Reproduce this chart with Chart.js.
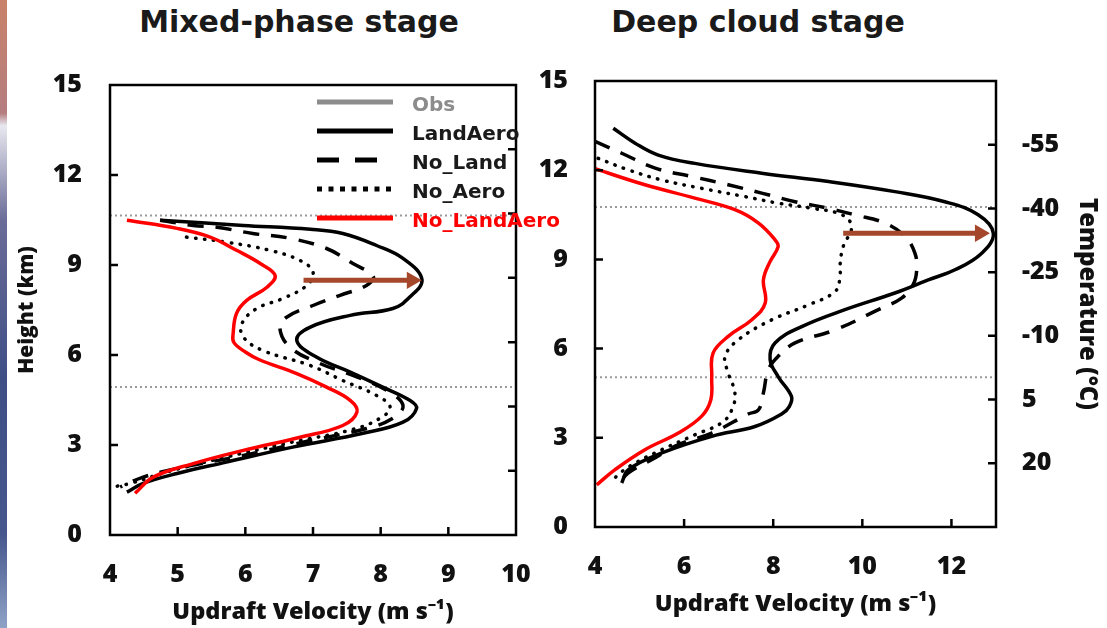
<!DOCTYPE html>
<html>
<head>
<meta charset="utf-8">
<script src="https://cdn.jsdelivr.net/npm/chart.js@4.4.0/dist/chart.umd.min.js"></script>
<style>
  html, body { margin: 0; padding: 0; background: #fff; }
  body { width: 1107px; height: 628px; position: relative; overflow: hidden; }
  #strip { position: absolute; left: 0; top: 0; width: 7px; height: 628px;
    background: linear-gradient(#c9826a 0%, #b47d7f 18%, #e8e8f0 20%, #6b6c98 35%, #3f4f86 60%, #45578c 85%, #8fa2c6 100%); }
  .ttl { position: absolute; top: 4px; transform: translateX(-50%); white-space: nowrap;
    font: bold 30px "DejaVu Sans", sans-serif; color: #1a1a1a; }
  #wrapL { position: absolute; left: 0; top: 0; z-index: 2; }
  #wrapR { position: absolute; left: 540px; top: 0; z-index: 1; }
</style>
</head>
<body>
<div id="strip"></div>
<div class="ttl" style="left:299px">Mixed-phase stage</div>
<div class="ttl" style="left:758px">Deep cloud stage</div>
<div id="wrapL"><canvas id="left" width="580" height="628"></canvas></div>
<div id="wrapR"><canvas id="right" width="567" height="628"></canvas></div>
<script>
// ---- data: [updraft velocity (m/s), height (km)] ----
// Mixed-phase stage
const mixLandAero = [[4.74,10.49],[5.97,10.32],[6.96,10.19],[7.44,10.05],[7.94,9.65],[8.33,9.22],[8.61,8.52],[8.43,7.93],[8.18,7.55],[7.55,7.32],[6.96,6.93],[6.76,6.49],[7.05,5.93],[7.55,5.43],[8.03,4.93],[8.43,4.49],[8.53,4.22],[8.33,3.76],[7.74,3.39],[6.70,2.93],[5.72,2.43],[4.99,2.05],[4.49,1.72],[4.25,1.43]];
const mixNoLand = [[4.74,10.49],[5.23,10.32],[5.58,10.26],[6.11,10.05],[6.66,9.89],[7.20,9.55],[7.59,9.05],[7.89,8.62],[7.79,8.32],[7.40,7.99],[7.00,7.65],[6.61,7.26],[6.51,6.89],[6.66,6.26],[7.10,5.72],[7.59,5.32],[8.09,4.82],[8.33,4.32],[8.18,3.89],[7.79,3.55],[6.96,3.15],[5.97,2.65],[4.99,2.22],[4.49,1.93],[4.15,1.60]];
const mixNoAero = [[5.13,9.93],[5.72,9.76],[6.36,9.49],[6.81,9.15],[7.00,8.76],[6.91,8.32],[6.56,7.89],[6.17,7.55],[5.95,7.05],[5.97,6.60],[6.26,6.15],[6.96,5.65],[7.44,5.15],[7.94,4.65],[8.14,4.26],[7.99,3.89],[7.59,3.52],[6.70,3.10],[5.72,2.60],[4.84,2.10],[4.30,1.72],[4.04,1.60]];
const mixNoLandAero = [[4.25,10.49],[4.99,10.22],[5.48,9.93],[5.87,9.49],[6.22,9.05],[6.44,8.65],[6.32,8.26],[6.02,7.82],[5.87,7.39],[5.82,6.72],[5.83,6.42],[6.00,6.10],[6.20,5.85],[6.76,5.38],[7.20,4.93],[7.55,4.49],[7.65,4.10],[7.44,3.65],[6.81,3.26],[5.97,2.82],[5.23,2.38],[4.64,1.93],[4.37,1.39]];
const mixLevels = [10.65, 4.93];
const mixArrow = [[6.86,8.49],[8.46,8.49]];

// Deep cloud stage
const deepLandAero = [[4.41,13.41],[4.90,12.91],[5.42,12.51],[6.24,12.23],[7.74,11.90],[9.24,11.62],[10.73,11.28],[11.85,10.94],[12.60,10.50],[12.94,9.88],[12.68,9.21],[12.08,8.65],[11.48,8.31],[10.73,7.87],[9.61,7.31],[8.64,6.74],[8.04,6.19],[7.93,5.63],[8.11,5.06],[8.41,4.39],[8.36,4.05],[8.19,3.80],[7.59,3.38],[6.62,3.05],[5.50,2.49],[4.75,1.93],[4.60,1.48]];
const deepNoLand = [[4.00,12.97],[4.60,12.57],[5.35,12.07],[6.17,11.79],[6.99,11.51],[7.74,11.23],[8.49,10.94],[9.24,10.72],[9.83,10.50],[10.51,10.22],[10.96,9.77],[11.18,9.21],[11.22,8.65],[11.14,8.15],[10.88,7.70],[10.36,7.31],[9.39,6.63],[8.49,6.19],[8.11,5.74],[7.89,5.29],[7.78,4.51],[7.67,3.94],[7.44,3.80],[6.62,3.16],[5.87,2.77],[5.27,2.26],[4.75,1.82],[4.52,1.42]];
const deepNoAero = [[4.07,12.40],[4.75,12.01],[5.50,11.67],[6.39,11.39],[7.37,11.11],[8.11,10.89],[8.86,10.72],[9.54,10.50],[9.76,10.10],[9.57,9.43],[9.50,8.82],[9.50,8.42],[9.39,7.92],[8.79,7.47],[7.97,6.97],[7.22,6.30],[6.92,5.74],[6.99,5.18],[7.14,4.51],[7.07,3.94],[6.84,3.50],[6.24,3.10],[5.50,2.60],[4.90,2.15],[4.52,1.76],[4.37,1.48]];
const deepNoLandAero = [[4.00,12.05],[5.12,11.51],[6.24,11.06],[7.14,10.67],[7.67,10.22],[8.04,9.66],[8.11,9.43],[7.92,8.90],[7.78,8.31],[7.82,7.53],[7.52,6.97],[6.99,6.41],[6.65,5.85],[6.62,5.06],[6.60,4.28],[6.39,3.72],[5.87,3.16],[5.12,2.60],[4.45,1.93],[4.04,1.42]];
const deepLevels = [10.76, 5.04];
const deepArrow = [[9.57,9.88],[12.64,9.88]];

// ticks
const heightTicks = [0, 3, 6, 9, 12, 15];
const mixVelTicks = [4, 5, 6, 7, 8, 9, 10];
const deepVelTicks = [4, 6, 8, 10, 12];
const tempTicks = [-55, -40, -25, -10, 5, 20];

const legendLabels = ['Obs', 'LandAero', 'No_Land', 'No_Aero', 'No_LandAero'];

// ---- styles ----
const styles = {
  Obs: { color: '#8c8c8c', text: '#8c8c8c', dash: [], legDash: [], cap: 'butt' },
  LandAero: { color: '#000', text: '#1a1a1a', dash: [], legDash: [], cap: 'butt' },
  No_Land: { color: '#000', text: '#1a1a1a', dash: [16, 12], legDash: [22, 16], cap: 'butt' },
  No_Aero: { color: '#000', text: '#1a1a1a', dash: [0.5, 8.5], legDash: [5, 6.5], cap: 'round' },
  No_LandAero: { color: '#ff0000', text: '#ff0000', dash: [], legDash: [], cap: 'butt' },
};
const arrowColor = '#a4472a';
const tickFont = { family: '"Open Sans", sans-serif', size: 25, weight: 800 };
const titleFont = { family: '"Open Sans", sans-serif', size: 23.5, weight: 800 };

const toXY = (pts) => pts.map(([x, y]) => ({ x, y }));
const fixedTicks = (values) => (scale) => { scale.ticks = values.map((v) => ({ value: v })); };

function curve(label, pts) {
  const st = styles[label];
  return {
    label, data: toXY(pts), borderColor: st.color, borderWidth: 3.5,
    borderDash: st.dash, borderCapStyle: st.cap, pointRadius: 0, tension: 0.4, fill: false,
  };
}

function level(h, xmin, xmax) {
  return {
    label: 'level', data: [{ x: xmin, y: h }, { x: xmax, y: h }], borderColor: '#9a9a9a',
    borderWidth: 2, borderDash: [2, 3], pointRadius: 0, fill: false,
  };
}

function arrow(pts) {
  return {
    label: 'arrow', data: toXY(pts), borderColor: arrowColor, backgroundColor: arrowColor,
    borderWidth: 5, pointStyle: 'triangle', rotation: 90, pointRadius: [0, 10],
    pointBorderWidth: 0, fill: false,
  };
}

// box + inward tick marks
const framePlugin = {
  id: 'frame',
  afterDraw(chart) {
    const { ctx, chartArea: a, scales } = chart;
    const len = 8;
    ctx.save();
    ctx.strokeStyle = '#000';
    ctx.lineWidth = 2.5;
    ctx.strokeRect(a.left, a.top, a.right - a.left, a.bottom - a.top);
    ctx.beginPath();
    scales.x.ticks.forEach((t) => {
      if (t.value === scales.x.min || t.value === scales.x.max) return;
      const p = scales.x.getPixelForValue(t.value);
      ctx.moveTo(p, a.bottom); ctx.lineTo(p, a.bottom - len);
    });
    scales.y.ticks.forEach((t) => {
      if (t.value === scales.y.min || t.value === scales.y.max) return;
      const p = scales.y.getPixelForValue(t.value);
      ctx.moveTo(a.left, p); ctx.lineTo(a.left + len, p);
    });
    scales.yT.ticks.forEach((t) => {
      const p = scales.yT.getPixelForValue(t.value);
      ctx.moveTo(a.right, p); ctx.lineTo(a.right - len, p);
    });
    ctx.stroke();
    ctx.restore();
  },
};

const legendPlugin = {
  id: 'boxLegend',
  afterDraw(chart, args, opts) {
    if (!opts.labels) return;
    const { ctx } = chart;
    ctx.save();
    ctx.font = 'bold 20px "DejaVu Sans", sans-serif';
    ctx.textBaseline = 'middle';
    opts.labels.forEach((lab, i) => {
      const st = styles[lab];
      const y = opts.y + i * opts.step;
      ctx.strokeStyle = st.color;
      ctx.lineWidth = 5;
      ctx.setLineDash(st.legDash);
      ctx.beginPath();
      ctx.moveTo(opts.x, y - 3);
      ctx.lineTo(opts.x + opts.len, y - 3);
      ctx.stroke();
      ctx.setLineDash([]);
      ctx.fillStyle = st.text;
      ctx.fillText(lab, opts.x + opts.len + 19, y + 1);
    });
    ctx.restore();
  },
};

function makeChart(id, o) {
  return new Chart(document.getElementById(id), {
    type: 'line',
    data: { datasets: o.datasets },
    plugins: [framePlugin, legendPlugin],
    options: {
      responsive: false,
      animation: false,
      layout: { padding: { top: o.top, left: 0, right: 0, bottom: 0 } },
      plugins: {
        legend: { display: false },
        tooltip: { enabled: false },
        boxLegend: o.legend || {},
      },
      scales: {
        x: {
          type: 'linear', min: 4, max: o.xmax,
          afterBuildTicks: fixedTicks(o.xTicks),
          afterFit: (s) => { s.height = o.xH; },
          grid: { display: false, drawTicks: false },
          border: { display: false },
          ticks: { font: tickFont, color: '#111', padding: 25, maxRotation: 0 },
          title: { display: true, text: 'Updraft Velocity (m s⁻¹)', font: titleFont, color: '#111', padding: { top: 0, bottom: o.xTitlePad } },
        },
        y: {
          type: 'linear', position: 'left', min: 0, max: 15,
          afterBuildTicks: fixedTicks(heightTicks),
          afterFit: (s) => { s.width = o.yW; },
          grid: { display: false, drawTicks: false },
          border: { display: false },
          ticks: { font: tickFont, color: '#111', padding: o.yPad },
          title: { display: o.showHeight, text: 'Height (km)', font: { ...titleFont, size: 21 }, color: '#111', padding: { top: 14, bottom: 0 } },
        },
        yT: {
          type: 'linear', position: 'right', min: -70, max: 35, reverse: true,
          afterBuildTicks: fixedTicks(tempTicks),
          afterFit: (s) => { s.width = o.tW; },
          grid: { display: false, drawTicks: false },
          border: { display: false },
          ticks: { display: o.showTemp, font: tickFont, color: '#111', padding: 26 },
          title: { display: o.showTemp, text: 'Temperature (°C)', font: { ...titleFont, size: 24 }, color: '#111', padding: { top: 6, bottom: 0 } },
        },
      },
    },
  });
}

makeChart('left', {
  datasets: [
    arrow(mixArrow),
    curve('No_LandAero', mixNoLandAero),
    curve('LandAero', mixLandAero),
    curve('No_Land', mixNoLand),
    curve('No_Aero', mixNoAero),
    ...mixLevels.map((h) => level(h, 4, 10)),
  ],
  xmax: 10, xTicks: mixVelTicks, top: 85, xH: 93, yW: 110, tW: 64,
  yPad: 28, xTitlePad: 2, showHeight: true, showTemp: false,
  legend: { labels: legendLabels, x: 317, y: 105, step: 29, len: 76 },
});

makeChart('right', {
  datasets: [
    arrow(deepArrow),
    curve('No_LandAero', deepNoLandAero),
    curve('LandAero', deepLandAero),
    curve('No_Land', deepNoLand),
    curve('No_Aero', deepNoAero),
    ...deepLevels.map((h) => level(h, 4, 13)),
  ],
  xmax: 13, xTicks: deepVelTicks, top: 81, xH: 101, yW: 55, tW: 111,
  yPad: 27, xTitlePad: 10, showHeight: false, showTemp: true,
});
</script>
</body>
</html>
